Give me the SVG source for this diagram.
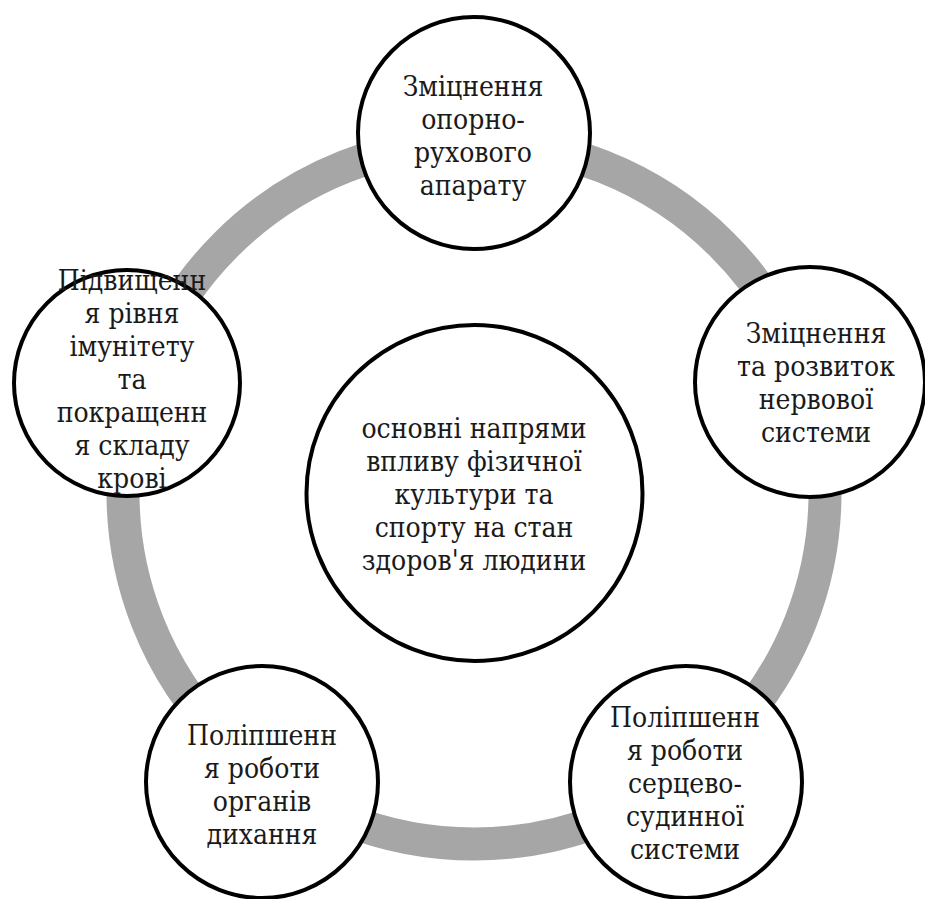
<svg xmlns="http://www.w3.org/2000/svg" width="925" height="899" viewBox="0 0 925 899">
<style>
.node circle{fill:#ffffff;stroke:#000000;stroke-width:4}
text{font-family:"DejaVu Serif Condensed","DejaVu Serif","Noto Serif",serif;font-stretch:condensed;font-size:28px;fill:#1a1a1a;text-anchor:middle}
.ring{fill:none;stroke:#a6a6a6;stroke-width:33}
</style>
<rect width="925" height="899" fill="#ffffff"/>
<g id="connectors">
<circle class="ring" cx="474" cy="493" r="351"/>
</g>
<g id="center" class="node">
<circle cx="474.5" cy="493" r="168"/>
<text x="474" y="438">основні напрями</text>
<text x="474" y="471">впливу фізичної</text>
<text x="474" y="504">культури та</text>
<text x="474" y="537">спорту на стан</text>
<text x="474" y="570">здоров'я людини</text>
</g>
<g id="top" class="node">
<circle cx="474" cy="133" r="116"/>
<text x="473" y="96">Зміцнення</text>
<text x="473" y="129">опорно-</text>
<text x="473" y="162">рухового</text>
<text x="473" y="195">апарату</text>
</g>
<g id="right" class="node">
<circle cx="810" cy="382" r="115"/>
<text x="816" y="343">Зміцнення</text>
<text x="816" y="376">та розвиток</text>
<text x="816" y="409">нервової</text>
<text x="816" y="442">системи</text>
</g>
<g id="bottom-right" class="node">
<circle cx="686" cy="782" r="116"/>
<text x="685" y="727">Поліпшенн</text>
<text x="685" y="760">я роботи</text>
<text x="685" y="793">серцево-</text>
<text x="685" y="826">судинної</text>
<text x="685" y="859">системи</text>
</g>
<g id="bottom-left" class="node">
<circle cx="262" cy="782" r="116"/>
<text x="262" y="745">Поліпшенн</text>
<text x="262" y="778">я роботи</text>
<text x="262" y="811">органів</text>
<text x="262" y="844">дихання</text>
</g>
<g id="left" class="node">
<circle cx="127" cy="383" r="113"/>
<text x="132" y="290">Підвищенн</text>
<text x="132" y="323">я рівня</text>
<text x="132" y="356">імунітету</text>
<text x="132" y="389">та</text>
<text x="132" y="422">покращенн</text>
<text x="132" y="455">я складу</text>
<text x="132" y="488">крові</text>
</g>
</svg>
